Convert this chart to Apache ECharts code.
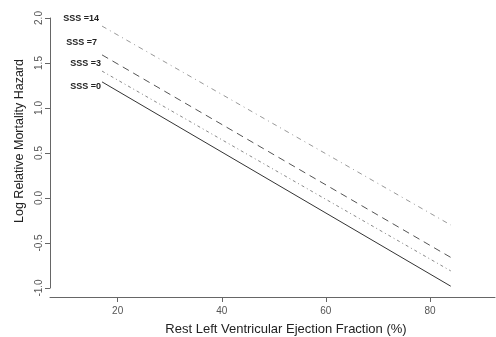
<!DOCTYPE html>
<html>
<head>
<meta charset="utf-8">
<script src="https://cdn.jsdelivr.net/npm/echarts@6/dist/echarts.min.js"></script>
<style>
  html, body { margin: 0; padding: 0; background: #fff; }
  #chart { width: 496px; height: 337px; }
</style>
</head>
<body>
<div id="chart"></div>
<script>
// Rest LVEF range covered by each fitted line (%)
const efRange = [17, 84];

// Fitted log relative mortality hazard at the ends of the LVEF range, by summed stress score
const sssNames = ['SSS =0', 'SSS =3', 'SSS =7', 'SSS =14'];
const hazardSSS0 = [1.29, -0.98];
const hazardSSS3 = [1.41, -0.81];
const hazardSSS7 = [1.59, -0.66];
const hazardSSS14 = [1.91, -0.30];

const xTicks = [20, 40, 60, 80];
const yTicks = [-1.0, -0.5, 0.0, 0.5, 1.0, 1.5, 2.0];

const hazards = [hazardSSS0, hazardSSS3, hazardSSS7, hazardSSS14];

// Per-line drawing styles: colour, dash pattern and label placement
const styles = [
  { color: '#333', dash: 'solid', offset: [4, 5] },
  { color: '#888', dash: [3, 3, 1, 3], offset: [4, -8] },
  { color: '#555', dash: [7, 5], offset: [0, -12] },
  { color: '#999', dash: [5, 4, 1, 4], offset: [2, -8] }
];

const series = hazards.map((h, i) => ({
  name: sssNames[i],
  type: 'line',
  data: efRange.map((x, k) => [x, h[k]]),
  showSymbol: false,
  symbol: 'none',
  silent: true,
  animation: false,
  lineStyle: { color: styles[i].color, width: 1, type: styles[i].dash },
  label: { show: false },
  markPoint: {
    symbol: 'circle',
    symbolSize: 0,
    silent: true,
    data: [{
      coord: [efRange[0], h[0]],
      label: {
        show: true,
        formatter: sssNames[i],
        position: 'left',
        distance: 5,
        offset: styles[i].offset,
        color: '#222',
        fontFamily: 'Liberation Sans',
        fontWeight: 'bold',
        fontSize: 9
      }
    }]
  }
}));

const axisGray = '#666';
const labelGray = '#555';

const chart = echarts.init(document.getElementById('chart'), null, { renderer: 'canvas' });
chart.setOption({
  backgroundColor: '#fff',
  animation: false,
  grid: { left: 50, right: 1, top: 18, bottom: 49, containLabel: false, outerBoundsMode: 'none' },
  xAxis: {
    type: 'value',
    min: 7,
    max: 92.5,
    offset: 9,
    name: 'Rest Left Ventricular Ejection Fraction (%)',
    nameLocation: 'middle',
    nameGap: 26,
    nameTextStyle: { color: '#222', fontSize: 13, fontFamily: 'Liberation Sans', padding: [0, 0, 0, 27] },
    axisLine: { show: true, onZero: false, lineStyle: { color: axisGray, width: 1 } },
    axisTick: { show: true, length: 5, lineStyle: { color: axisGray }, customValues: xTicks },
    axisLabel: { color: labelGray, fontSize: 10, fontFamily: 'Liberation Sans', margin: 9, customValues: xTicks },
    splitLine: { show: false }
  },
  yAxis: {
    type: 'value',
    min: -1,
    max: 2,
    interval: 0.5,
    name: 'Log Relative Mortality Hazard',
    nameLocation: 'middle',
    nameGap: 18,
    nameTextStyle: { color: '#222', fontSize: 12.5, fontFamily: 'Liberation Sans', padding: [0, 0, 0, 24] },
    axisLine: { show: true, onZero: false, lineStyle: { color: axisGray, width: 1 } },
    axisTick: { show: true, length: 5, lineStyle: { color: axisGray } },
    axisLabel: {
      color: labelGray, fontSize: 10, fontFamily: 'Liberation Sans', rotate: 90, margin: 6,
      formatter: v => yTicks.includes(v) ? v.toFixed(1) : ''
    },
    splitLine: { show: false }
  },
  series: series
});
</script>
</body>
</html>
